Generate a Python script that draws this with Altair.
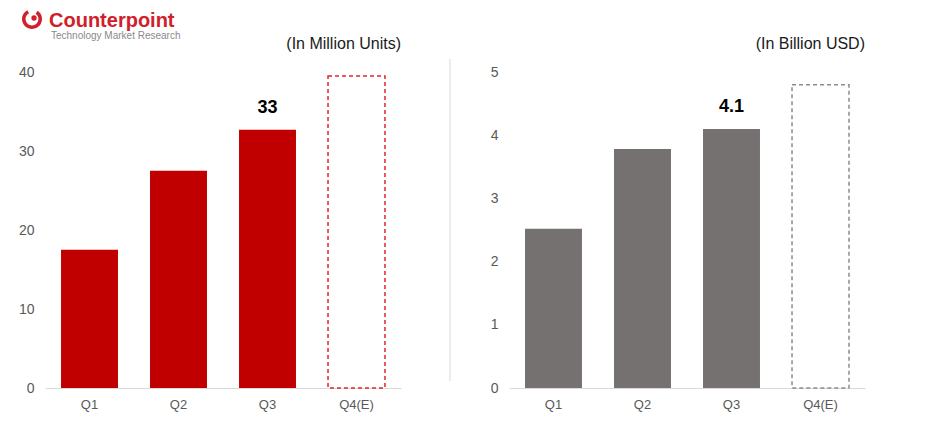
import altair as alt
import pandas as pd

quarters = ["Q1", "Q2", "Q3", "Q4(E)"]
units = [17.5, 27.5, 32.7, 39.5]
revenue = [2.52, 3.78, 4.10, 4.80]
kind = ["actual", "actual", "actual", "estimate"]
units_labels = ["", "", "33", ""]
revenue_labels = ["", "", "4.1", ""]

FONT = "Liberation Sans"
W, H = 356, 316

df_u = pd.DataFrame({"q": quarters, "v": units, "kind": kind, "lab": units_labels})
df_r = pd.DataFrame({"q": quarters, "v": revenue, "kind": kind, "lab": revenue_labels})
one = pd.DataFrame({"a": [0]})

xscale = alt.Scale(paddingInner=0.36, paddingOuter=0.18)


def panel(df, ymax, step, fill, dash_color, unit_text, ext_layers):
    x = alt.X("q:N", sort=quarters, scale=xscale,
              axis=alt.Axis(title=None, labelAngle=0, ticks=False, domain=True,
                            domainColor="#d9d9d9", labelColor="#595959",
                            labelFontSize=13, labelPadding=10, labelFont=FONT))
    y = alt.Y("v:Q", scale=alt.Scale(domain=[0, ymax], nice=False),
              axis=alt.Axis(title=None, values=list(range(0, ymax + 1, step)),
                            grid=False, ticks=False, domain=False,
                            labelColor="#595959", labelFontSize=14,
                            labelPadding=11, labelFont=FONT))
    base = alt.Chart(df).encode(x=x, y=y)
    actual = base.mark_bar(color=fill).transform_filter(alt.datum.kind == "actual")
    est = base.mark_bar(fill="white", stroke=dash_color, strokeWidth=1.5,
                        strokeDash=[4, 3]).transform_filter(alt.datum.kind == "estimate")
    lab = base.mark_text(baseline="bottom", dy=-13, fontSize=18, fontWeight="bold",
                         font=FONT, color="#000000").encode(text="lab:N")
    unit = alt.Chart(one).mark_text(align="right", baseline="alphabetic", fontSize=16,
                                    font=FONT, color="#1a1a1a").encode(
        x=alt.value(W), y=alt.value(-23), text=alt.value(unit_text))
    return alt.layer(actual, est, lab, unit, *ext_layers).properties(width=W, height=H)


RED = "#d0202a"
logo_icon = alt.Chart(one).mark_arc(color=RED, innerRadius=6.5, outerRadius=10,
                                    theta=0.6, theta2=5.8).encode(
    x=alt.value(-13), y=alt.value(-53))
logo_dot = alt.Chart(one).mark_point(shape="circle", filled=True, size=28, opacity=1,
                                     color=RED).encode(
    x=alt.value(-11), y=alt.value(-54))
logo_name = alt.Chart(one).mark_text(align="left", baseline="alphabetic", fontSize=20,
                                     fontWeight="bold", font=FONT, color=RED).encode(
    x=alt.value(4), y=alt.value(-45), text=alt.value("Counterpoint"))
logo_sub = alt.Chart(one).mark_text(align="left", baseline="alphabetic", fontSize=10,
                                    font=FONT, color="#8a8a8a").encode(
    x=alt.value(6), y=alt.value(-33), text=alt.value("Technology Market Research"))

divider = alt.Chart(one).mark_rule(color="#e6e6e6", strokeWidth=1.5).encode(
    x=alt.value(-59), y=alt.value(-13), y2=alt.value(309))

left = panel(df_u, 40, 10, "#c00000", "#e0262b", "(In Million Units)",
             [logo_icon, logo_dot, logo_name, logo_sub])
right = panel(df_r, 5, 1, "#767171", "#8c8c8c", "(In Billion USD)", [divider])

chart = alt.hconcat(left, right, spacing=108, bounds="flush").resolve_scale(
    y="independent").properties(
    padding={"left": 10, "top": 2, "right": 5, "bottom": 5}
).configure(background="white").configure_view(strokeWidth=0, stroke="transparent")

chart.save("out.html", embed_options={"renderer": "svg", "actions": False})
